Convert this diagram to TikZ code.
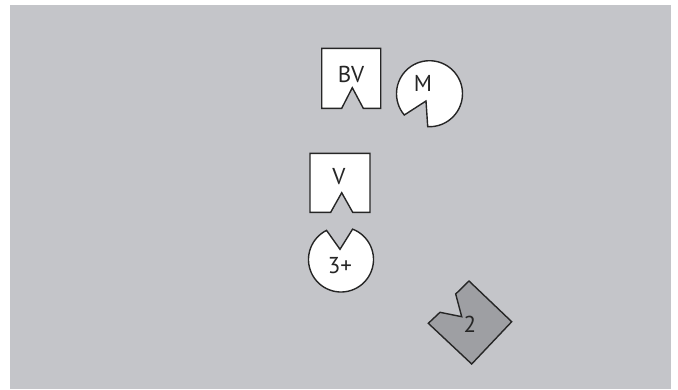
\documentclass[tikz,border=0pt]{standalone}
\usepackage{fontspec}
\setmainfont{PT Sans}
\usepackage{tikz}
\usetikzlibrary{calc}
\definecolor{bggray}{RGB}{196,197,201}
\definecolor{tilegray}{RGB}{158,159,163}
\tikzset{
  piece/.style = {draw=black!85, fill=white, line width=1.4pt, line join=miter},
  piecd/.style = {draw=black!85, fill=tilegray, line width=1.4pt, line join=miter},
  lbl/.style   = {font=\fontsize{23}{25}\selectfont, inner sep=0pt, text=black!85},
}
\begin{document}
\begin{tikzpicture}[x=1pt,y=-1pt]
  \useasboundingbox (0,0) rectangle (678,389);
  \fill[bggray] (10,5) rectangle (671,389);

  % square BV with notch
  \draw[piece] (321.7,48.3) -- (380.7,48.3) -- (380.7,108.3) -- (363.3,108.3)
    -- (352.3,87.7) -- (341.7,108.3) -- (321.7,108.3) -- cycle;
  \node[lbl] (bv) at (351,74) {BV};

  % disc M with wedge cut out
  \coordinate (mc) at (429.5,93.7);
  \draw[piece] (426,101) -- ($(mc)+(139.8:33)$) arc[start angle=139.8, end angle=453.1, radius=33] -- cycle;
  \node[lbl] (m) at (423,83) {M};

  % square V with notch
  \draw[piece] (310,153.3) -- (370,153.3) -- (370,212.3) -- (352.7,212.3)
    -- (341.7,192.7) -- (330.7,212.3) -- (310,212.3) -- cycle;
  \node[lbl] (v) at (339,177) {V};

  % disc 3+ with wedge cut out
  \coordinate (tc) at (341,259.5);
  \draw[piece] (340,249.3) -- ($(tc)+(290.9:32.5)$) arc[start angle=290.9, end angle=603.6, radius=32.5] -- cycle;
  \node[lbl] (three) at (340,266) {3+};

  % dark tile 2
  \draw[piecd] (469,281) -- (511.7,321.7) -- (471.7,364) -- (428.3,323.3)
    -- (440,312.3) -- (461.7,316.7) -- (455.7,294) -- cycle;
  \node[lbl] (two) at (470,324) {2};
\end{tikzpicture}
\end{document}
